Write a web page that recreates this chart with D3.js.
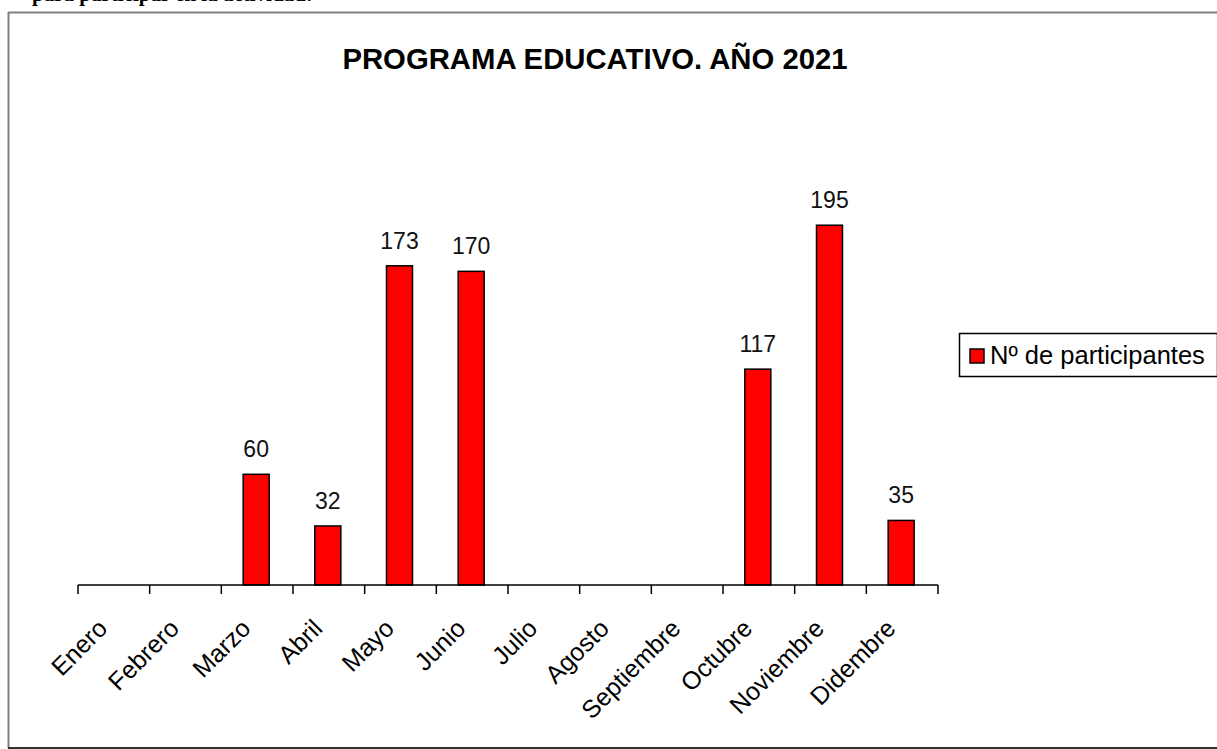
<!DOCTYPE html>
<html>
<head>
<meta charset="utf-8">
<script src="https://cdn.jsdelivr.net/npm/d3@7"></script>
<style>
  html, body { margin: 0; padding: 0; background: #fff; }
  svg { display: block; font-family: Arial, "Liberation Sans", sans-serif; }
</style>
</head>
<body>
<div class="div-chart"></div>
<script>
// chart data
const months = ['Enero', 'Febrero', 'Marzo', 'Abril', 'Mayo', 'Junio', 'Julio',
    'Agosto', 'Septiembre', 'Octubre', 'Noviembre', 'Didembre'];
const participantes = [0, 0, 60, 32, 173, 170, 0, 0, 0, 117, 195, 35];
const seriesName = 'Nº de participantes';
const chartTitle = 'PROGRAMA EDUCATIVO. AÑO 2021';

const width = 1217, height = 749;

const svg = d3.select('.div-chart')
    .append('svg')
    .attr('width', width)
    .attr('height', height);

// cut-off line of the document above the chart
svg.append('text')
    .attr('x', 32)
    .attr('y', 0.5)
    .attr('font-family', '"Liberation Serif", "Times New Roman", serif')
    .attr('font-weight', 'bold')
    .attr('font-size', 21)
    .text('para participar en la actividad:');

// frame
svg.append('line').attr('x1', 8).attr('x2', width).attr('y1', 12.5).attr('y2', 12.5)
    .attr('stroke', '#808080').attr('stroke-width', 2);
svg.append('line').attr('x1', 8.5).attr('x2', 8.5).attr('y1', 12).attr('y2', 748)
    .attr('stroke', '#808080').attr('stroke-width', 2);
svg.append('line').attr('x1', 8).attr('x2', width).attr('y1', 748).attr('y2', 748)
    .attr('stroke', '#333').attr('stroke-width', 2);

// title
svg.append('text')
    .attr('x', 595)
    .attr('y', 69)
    .attr('text-anchor', 'middle')
    .attr('font-weight', 'bold')
    .attr('font-size', 29.3)
    .text(chartTitle);

// scales
const xScale = d3.scaleBand()
    .domain(months)
    .range([78, 938])
    .paddingInner(0)
    .paddingOuter(0);

const yScale = d3.scaleLinear()
    .domain([0, 200])
    .range([585, 216]);

const barW = 26;

const barData = months.map((m, i) => ({ m, v: participantes[i] })).filter(d => d.v > 0);

// bars
svg.selectAll('.bar')
    .data(barData)
    .enter().append('rect')
    .attr('class', 'bar')
    .attr('x', d => xScale(d.m) + xScale.bandwidth() / 2 - barW / 2 - 1)
    .attr('y', d => yScale(d.v))
    .attr('width', barW)
    .attr('height', d => yScale(0) - yScale(d.v))
    .attr('fill', '#ff0000')
    .attr('stroke', '#000')
    .attr('stroke-width', 1.5);

// value labels
svg.selectAll('.val')
    .data(barData)
    .enter().append('text')
    .attr('class', 'val')
    .attr('x', d => xScale(d.m) + xScale.bandwidth() / 2 - 1)
    .attr('y', d => yScale(d.v) - 17)
    .attr('text-anchor', 'middle')
    .attr('font-size', 23)
    .attr('fill', '#111')
    .text(d => d.v);

// x axis: ticks at category boundaries
const axisG = svg.append('g');
axisG.append('line')
    .attr('x1', xScale.range()[0]).attr('x2', xScale.range()[1])
    .attr('y1', yScale(0)).attr('y2', yScale(0))
    .attr('stroke', '#000').attr('stroke-width', 1.5);
axisG.selectAll('.tick')
    .data(months.concat(['end']))
    .enter().append('line')
    .attr('x1', (d, i) => xScale.range()[0] + i * xScale.step())
    .attr('x2', (d, i) => xScale.range()[0] + i * xScale.step())
    .attr('y1', yScale(0))
    .attr('y2', yScale(0) + 9)
    .attr('stroke', '#000').attr('stroke-width', 1.5);

axisG.selectAll('.lbl')
    .data(months)
    .enter().append('text')
    .attr('class', 'lbl')
    .attr('text-anchor', 'end')
    .attr('font-size', 25)
    .attr('transform', d => `translate(${xScale(d) + xScale.bandwidth() / 2 - 5},${yScale(0) + 45}) rotate(-45)`)
    .text(d => d);

// legend
const leg = svg.append('g').attr('transform', 'translate(959,333)');
leg.append('rect')
    .attr('x', 0.5).attr('y', 0.5)
    .attr('width', 258).attr('height', 43)
    .attr('fill', '#fff').attr('stroke', '#000').attr('stroke-width', 1.5);
leg.append('rect')
    .attr('x', 11).attr('y', 16)
    .attr('width', 14).attr('height', 14)
    .attr('fill', '#ff0000').attr('stroke', '#000').attr('stroke-width', 1.5);
leg.append('text')
    .attr('x', 31).attr('y', 31)
    .attr('font-size', 25.5)
    .text(seriesName);
</script>
</body>
</html>
